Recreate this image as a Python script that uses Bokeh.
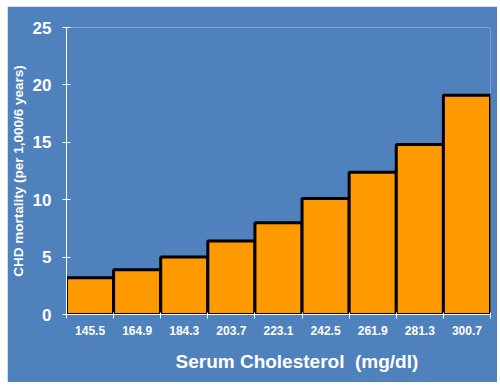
from bokeh.plotting import figure
from bokeh.models import FixedTicker, Title, ColumnDataSource
from bokeh.embed import file_html
from bokeh.resources import INLINE

categories = ["145.5", "164.9", "184.3", "203.7", "223.1", "242.5", "261.9", "281.3", "300.7"]
mortality = [3.2, 3.9, 5.0, 6.4, 8.0, 10.1, 12.4, 14.8, 19.1]
y_ticks = [0, 5, 10, 15, 20, 25]

BLUE = "#4F81BD"
FONT = "Liberation Sans"

n = len(categories)
left = list(range(n))
right = [i + 1 for i in left]
src = ColumnDataSource(dict(left=left, right=right, top=mortality, bottom=[0] * n))

p = figure(width=490, height=376, x_range=(0, n), y_range=(0, 25),
           output_backend="svg", toolbar_location=None,
           min_border_left=59, min_border_right=7, min_border_top=21, min_border_bottom=68)
p.margin = (6, 0, 0, 7)

p.background_fill_color = BLUE
p.border_fill_color = BLUE
p.outline_line_color = None
p.xgrid.grid_line_color = None
p.ygrid.grid_line_color = None

p.quad(source=src, left="left", right="right", top="top", bottom="bottom",
       fill_color="#FF9900", line_color="black", line_width=3)

# x axis: labels at bar centres, tick marks at bar boundaries
xa = p.xaxis[0]
xa.ticker = FixedTicker(ticks=[i + 0.5 for i in range(n)], minor_ticks=list(range(n + 1)))
xa.major_label_overrides = {i + 0.5: c for i, c in enumerate(categories)}
xa.axis_line_color = "white"
xa.axis_line_width = 1
xa.major_tick_line_color = None
xa.major_tick_in = 0
xa.major_tick_out = 0
xa.minor_tick_line_color = "white"
xa.minor_tick_in = 2
xa.minor_tick_out = 4
xa.major_label_text_color = "white"
xa.major_label_text_font = FONT
xa.major_label_text_font_style = "bold"
xa.major_label_text_font_size = "12px"
xa.major_label_standoff = 7

ya = p.yaxis[0]
ya.ticker = FixedTicker(ticks=y_ticks, minor_ticks=[])
ya.axis_line_color = "white"
ya.major_tick_line_color = "white"
ya.major_tick_in = 4
ya.major_tick_out = 4
ya.minor_tick_line_color = None
ya.major_label_text_color = "white"
ya.major_label_text_font = FONT
ya.major_label_text_font_style = "bold"
ya.major_label_text_font_size = "17px"
ya.major_label_standoff = 11
ya.axis_label = "CHD mortality (per 1,000/6 years)"
ya.axis_label_text_color = "white"
ya.axis_label_text_font = FONT
ya.axis_label_text_font_style = "bold"
ya.axis_label_text_font_size = "13.5px"
ya.axis_label_standoff = 4

p.add_layout(Title(text="Serum Cholesterol\u00a0 (mg/dl)", align="left", offset=109,
                   text_font_size="19px", text_font=FONT, text_font_style="bold",
                   text_color="white", standoff=22), "below")

open("out.html", "w").write(file_html(p, INLINE))
